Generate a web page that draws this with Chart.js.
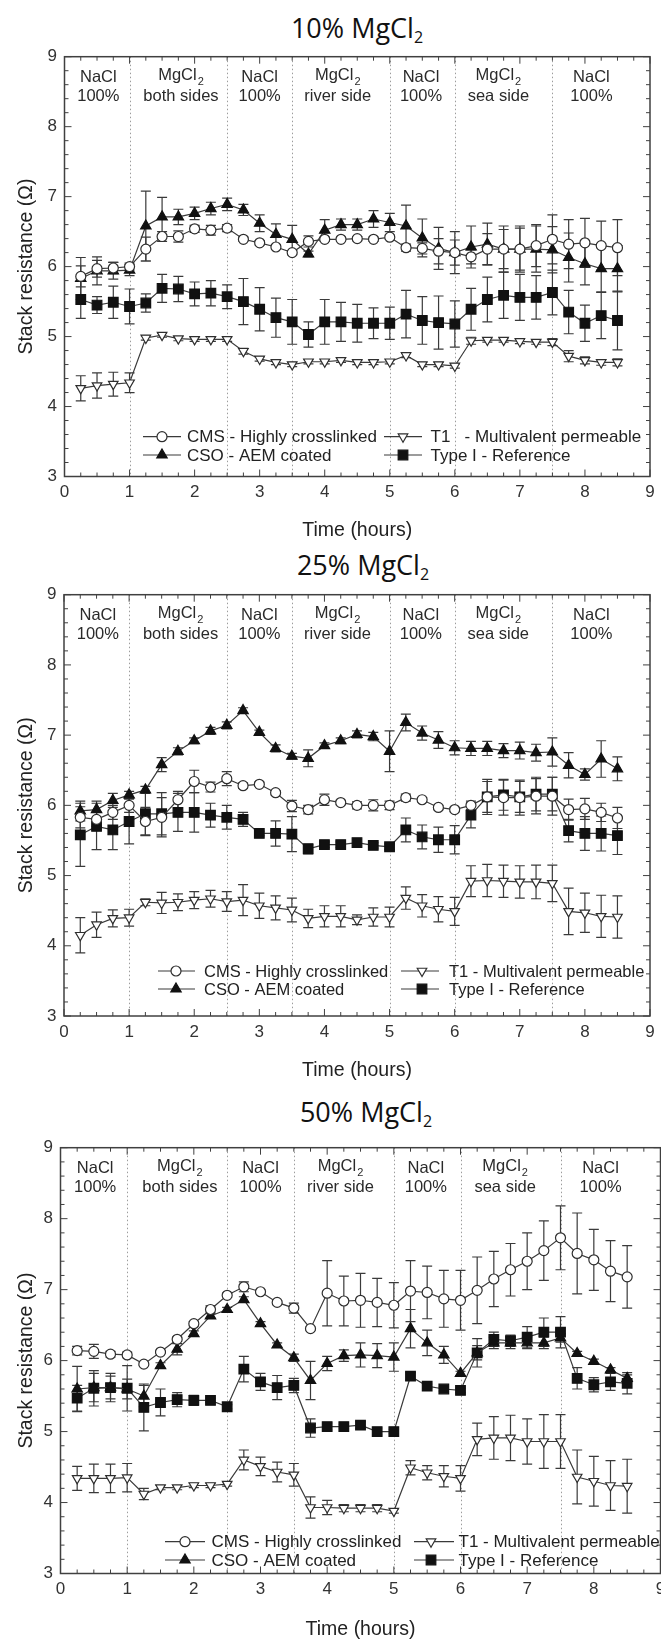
<!DOCTYPE html>
<html>
<head>
<meta charset="utf-8">
<script src="https://cdn.jsdelivr.net/npm/chart.js@4.4.1/dist/chart.umd.min.js"></script>
<style>
  body { margin: 0; width: 661px; height: 1639px; overflow: hidden; background: #fff; position: relative; }
  canvas { position: absolute; left: 0; }
  .ttl { position: absolute; font-family: "Open Sans", sans-serif; font-size: 27px; color: #111;
         transform: translate(-50%, -50%); white-space: nowrap; line-height: 1; }
  .ttl sub { font-size: 16px; vertical-align: -5px; line-height: 0; }
</style>
</head>
<body>
<script>
// x positions of the measurements (hours)
const times = [0.25,0.5,0.75,1,1.25,1.5,1.75,2,2.25,2.5,2.75,3,3.25,3.5,3.75,4,4.25,4.5,4.75,5,
               5.25,5.5,5.75,6,6.25,6.5,6.75,7,7.25,7.5,7.75,8,8.25,8.5];

// phase changes and phase labels
const phaseBounds = [1, 2.5, 3.5, 5, 6, 7.5];
const phaseX = [0.52, 1.79, 3.0, 4.2, 5.48, 6.67, 8.1];
const phaseTop = ['NaCl','MgCl','NaCl','MgCl','NaCl','MgCl','NaCl'];
const phaseBottom = ['100%','both sides','100%','river side','100%','sea side','100%'];

const xTicks = [0,1,2,3,4,5,6,7,8,9];
const yTicks = [3,4,5,6,7,8,9];

const panelTitles = ['10%', '25%', '50%'];
const seriesNames = [
  ['CMS - Highly crosslinked','CSO - AEM coated','T1   - Multivalent permeable','Type I - Reference'],
  ['CMS - Highly crosslinked','CSO - AEM coated','T1 - Multivalent permeable','Type I - Reference'],
  ['CMS - Highly crosslinked','CSO - AEM coated','T1 - Multivalent permeable','Type I - Reference']
];

// 10% MgCl2
const cms10 = [5.86,5.97,5.98,6.00,6.25,6.43,6.43,6.54,6.52,6.55,6.39,6.34,6.28,6.20,6.36,6.39,6.39,6.40,6.39,6.42,6.27,6.26,6.22,6.20,6.14,6.25,6.25,6.25,6.30,6.39,6.32,6.34,6.30,6.27];
const cms10Err = [0.15,0.12,0.08,0.05,0.17,0.07,0.08,0.05,0.07,0.05,0.03,0.03,0.03,0.03,0.08,0.03,0.03,0.03,0.03,0.03,0.05,0.08,0.18,0.18,0.1,0.22,0.28,0.3,0.3,0.35,0.35,0.35,0.35,0.4];
const cso10 = [5.83,5.94,5.94,5.95,6.58,6.71,6.71,6.76,6.83,6.89,6.81,6.62,6.46,6.39,6.18,6.52,6.60,6.60,6.68,6.63,6.58,6.41,6.26,6.20,6.28,6.32,6.25,6.25,6.25,6.24,6.13,6.04,5.97,5.97];
const cso10Err = [0.3,0.2,0.12,0.08,0.5,0.28,0.11,0.09,0.09,0.09,0.08,0.12,0.15,0.2,0.04,0.15,0.08,0.08,0.12,0.13,0.3,0.27,0.3,0.3,0.3,0.3,0.33,0.33,0.33,0.33,0.35,0.3,0.33,0.33];
const t110 = [4.26,4.30,4.32,4.34,4.98,5.02,4.97,4.96,4.96,4.96,4.79,4.68,4.63,4.60,4.64,4.64,4.66,4.63,4.63,4.64,4.73,4.60,4.60,4.58,4.94,4.95,4.95,4.93,4.92,4.92,4.72,4.66,4.63,4.63];
const t110Err = [0.18,0.18,0.17,0.14,0.03,0.03,0.03,0.03,0.03,0.03,0.04,0.03,0.03,0.03,0.03,0.03,0.03,0.03,0.03,0.03,0.03,0.03,0.03,0.03,0.05,0.03,0.03,0.03,0.03,0.05,0.08,0.05,0.04,0.05];
const type10 = [5.53,5.45,5.49,5.43,5.48,5.69,5.68,5.61,5.62,5.57,5.50,5.39,5.27,5.21,5.03,5.21,5.21,5.19,5.19,5.19,5.32,5.23,5.20,5.18,5.39,5.53,5.59,5.56,5.56,5.63,5.35,5.19,5.30,5.23];
const type10Err = [0.27,0.12,0.23,0.25,0.13,0.2,0.18,0.17,0.18,0.17,0.33,0.31,0.28,0.32,0.18,0.32,0.28,0.27,0.22,0.23,0.34,0.34,0.38,0.33,0.3,0.32,0.33,0.33,0.31,0.32,0.31,0.26,0.33,0.42];

// 25% MgCl2
const cms25 = [5.83,5.80,5.90,6.00,5.77,5.83,6.08,6.34,6.26,6.38,6.28,6.30,6.18,5.99,5.94,6.08,6.04,6.00,6.00,6.00,6.11,6.08,5.97,5.94,6.00,6.12,6.11,6.11,6.13,6.13,5.94,5.95,5.90,5.82];
const cms25Err = [0.15,0.1,0.1,0.1,0.2,0.28,0.12,0.16,0.07,0.1,0.04,0.03,0.03,0.08,0.06,0.08,0.03,0.05,0.08,0.06,0.05,0.03,0.03,0.03,0.06,0.25,0.25,0.25,0.25,0.27,0.15,0.15,0.13,0.15];
const cso25 = [5.92,5.94,6.07,6.15,6.22,6.58,6.77,6.92,7.06,7.14,7.35,7.04,6.81,6.70,6.67,6.85,6.92,7.01,6.98,6.77,7.18,7.03,6.93,6.82,6.81,6.81,6.78,6.78,6.75,6.76,6.57,6.44,6.66,6.52];
const cso25Err = [0.14,0.12,0.1,0.05,0.05,0.1,0.05,0.04,0.05,0.05,0.04,0.03,0.05,0.04,0.12,0.04,0.04,0.05,0.06,0.29,0.12,0.1,0.12,0.1,0.1,0.1,0.1,0.12,0.12,0.2,0.18,0.08,0.26,0.17];
const t125 = [4.15,4.30,4.39,4.40,4.62,4.61,4.62,4.65,4.67,4.63,4.65,4.57,4.54,4.51,4.39,4.42,4.42,4.37,4.41,4.41,4.68,4.57,4.52,4.49,4.92,4.93,4.92,4.91,4.91,4.89,4.49,4.47,4.42,4.41];
const t125Err = [0.25,0.18,0.12,0.12,0.05,0.15,0.12,0.12,0.12,0.14,0.22,0.18,0.17,0.17,0.13,0.15,0.15,0.07,0.13,0.14,0.16,0.16,0.18,0.2,0.22,0.23,0.23,0.23,0.24,0.26,0.33,0.28,0.3,0.3];
const type25 = [5.58,5.70,5.65,5.77,5.88,5.88,5.90,5.90,5.86,5.83,5.80,5.60,5.60,5.59,5.38,5.44,5.44,5.47,5.43,5.41,5.65,5.55,5.51,5.51,5.86,6.12,6.15,6.12,6.16,6.16,5.64,5.60,5.60,5.57];
const type25Err = [0.45,0.33,0.28,0.32,0.3,0.3,0.27,0.28,0.17,0.17,0.1,0.03,0.18,0.25,0.07,0.04,0.04,0.04,0.04,0.04,0.17,0.17,0.18,0.2,0.18,0.22,0.22,0.22,0.24,0.24,0.16,0.24,0.25,0.27];

// 50% MgCl2
const cms50 = [6.14,6.13,6.09,6.08,5.95,6.12,6.30,6.52,6.72,6.92,7.04,6.97,6.82,6.74,6.45,6.95,6.84,6.85,6.82,6.78,6.98,6.96,6.87,6.85,6.99,7.15,7.28,7.40,7.55,7.73,7.51,7.42,7.26,7.18];
const cms50Err = [0.06,0.1,0.04,0.04,0.02,0.02,0.03,0.03,0.05,0.03,0.07,0.02,0.02,0.07,0.02,0.46,0.35,0.38,0.34,0.32,0.43,0.37,0.4,0.42,0.47,0.39,0.37,0.4,0.42,0.45,0.57,0.43,0.43,0.44];
const cso50 = [5.60,5.62,5.62,5.60,5.50,5.93,6.16,6.38,6.63,6.72,6.86,6.52,6.22,6.04,5.72,5.96,6.07,6.08,6.07,6.05,6.45,6.25,6.08,5.82,6.11,6.25,6.25,6.25,6.25,6.32,6.10,5.99,5.87,5.75];
const cso50Err = [0.32,0.2,0.16,0.14,0.15,0.04,0.08,0.04,0.03,0.03,0.04,0.03,0.03,0.05,0.27,0.1,0.08,0.17,0.17,0.2,0.27,0.18,0.12,0.03,0.1,0.08,0.08,0.08,0.08,0.06,0.03,0.03,0.03,0.05];
const t150 = [4.34,4.34,4.34,4.35,4.12,4.21,4.21,4.24,4.24,4.26,4.60,4.51,4.43,4.39,3.93,3.93,3.92,3.92,3.92,3.88,4.49,4.42,4.37,4.34,4.89,4.91,4.91,4.86,4.86,4.86,4.36,4.30,4.24,4.23];
const t150Err = [0.17,0.2,0.2,0.2,0.08,0.03,0.03,0.03,0.03,0.03,0.14,0.13,0.14,0.16,0.15,0.1,0.05,0.05,0.05,0.03,0.1,0.1,0.15,0.18,0.23,0.3,0.32,0.32,0.38,0.38,0.38,0.35,0.35,0.38];
const type50 = [5.47,5.61,5.62,5.61,5.34,5.41,5.45,5.44,5.44,5.35,5.88,5.70,5.62,5.65,5.05,5.07,5.07,5.09,5.00,5.00,5.78,5.64,5.60,5.58,6.11,6.30,6.28,6.33,6.40,6.40,5.75,5.66,5.70,5.68];
const type50Err = [0.18,0.25,0.2,0.32,0.33,0.19,0.1,0.07,0.03,0.03,0.18,0.12,0.17,0.1,0.13,0.05,0.03,0.05,0.05,0.03,0.05,0.03,0.03,0.03,0.2,0.1,0.08,0.15,0.2,0.22,0.15,0.1,0.12,0.15];

const panelValues = [
  [[cms10, cms10Err], [cso10, cso10Err], [t110, t110Err], [type10, type10Err]],
  [[cms25, cms25Err], [cso25, cso25Err], [t125, t125Err], [type25, type25Err]],
  [[cms50, cms50Err], [cso50, cso50Err], [t150, t150Err], [type50, type50Err]]
];

// page geometry of the three plots
const panels = [
  { top: 51.7, bottom: 476.5, left: 64.5, right: 650, titleX: 357, titleY: 27, timeY: 531, legFont: 17,
    legRows: [39.8, 21.5], legCols: [[78.5, 116.5, 97.5, 122.5], [319.5, 357.5, 338.5, 366]] },
  { top: 589.7, bottom: 1016, left: 64, right: 650, titleX: 363, titleY: 564, timeY: 1071, legFont: 16.5,
    legRows: [45, 27], legCols: [[94, 131, 112, 140], [337, 375, 358, 385]] },
  { top: 1142.5, bottom: 1573.5, left: 60.5, right: 660.5, titleX: 366, titleY: 1111, timeY: 1630, legFont: 17,
    legRows: [31.8, 13.5], legCols: [[104.5, 144.5, 124.5, 151], [353.5, 393.5, 370.5, 398]] }
];

const FONT = '"Liberation Sans", Arial, sans-serif';
const CANVAS_W = 700;

const styles = [
  { pointStyle: 'circle', radius: 5, rotation: 0, fill: '#ffffff', stroke: '#2e2e2e' },
  { pointStyle: 'triangle', radius: 6, rotation: 0, fill: '#111111', stroke: '#111111' },
  { pointStyle: 'triangle', radius: 5.5, rotation: 180, fill: '#ffffff', stroke: '#2e2e2e' },
  { pointStyle: 'rect', radius: 6.8, rotation: 0, fill: '#111111', stroke: '#111111' }
];

const decor = {
  id: 'decor',
  beforeDatasetsDraw(chart) {
    const { ctx, chartArea: a, scales: { x, y } } = chart;
    ctx.save();
    ctx.strokeStyle = '#9c9c9c';
    ctx.lineWidth = 1;
    ctx.setLineDash([1.5, 2.5]);
    phaseBounds.forEach(b => {
      const px = Math.round(x.getPixelForValue(b)) + 0.5;
      ctx.beginPath(); ctx.moveTo(px, a.top); ctx.lineTo(px, a.bottom); ctx.stroke();
    });
    ctx.setLineDash([]);
    // error bars
    ctx.strokeStyle = '#3a3a3a';
    ctx.lineWidth = 1.2;
    chart.data.datasets.forEach(ds => {
      ds.data.forEach((p, j) => {
        const e = ds.errors[j];
        const px = x.getPixelForValue(p.x);
        const y1 = y.getPixelForValue(p.y + e), y2 = y.getPixelForValue(p.y - e);
        ctx.beginPath();
        ctx.moveTo(px, y1); ctx.lineTo(px, y2);
        ctx.moveTo(px - 5, y1); ctx.lineTo(px + 5, y1);
        ctx.moveTo(px - 5, y2); ctx.lineTo(px + 5, y2);
        ctx.stroke();
      });
    });
    ctx.restore();
  },
  afterDraw(chart) {
    const { ctx, chartArea: a, scales: { x, y } } = chart;
    const g = chart.options.plugins.decor;
    ctx.save();
    // frame + inward ticks on all sides
    ctx.strokeStyle = '#404040';
    ctx.lineWidth = 1.5;
    ctx.strokeRect(a.left, a.top, a.right - a.left, a.bottom - a.top);
    ctx.lineWidth = 1;
    ctx.beginPath();
    for (let v = 0; v <= 36; v++) {
      const px = x.getPixelForValue(v * 0.25);
      const len = v % 4 === 0 ? 7 : 4;
      ctx.moveTo(px, a.bottom); ctx.lineTo(px, a.bottom - len);
      ctx.moveTo(px, a.top); ctx.lineTo(px, a.top + len);
    }
    for (let v = 0; v <= 30; v++) {
      const py = y.getPixelForValue(3 + v * 0.2);
      const len = v % 5 === 0 ? 7 : 4;
      ctx.moveTo(a.left, py); ctx.lineTo(a.left + len, py);
      ctx.moveTo(a.right, py); ctx.lineTo(a.right - len, py);
    }
    ctx.stroke();

    // phase labels
    ctx.fillStyle = '#2a2a2a';
    ctx.textBaseline = 'middle';
    const big = '16.5px ' + FONT, small = '11px ' + FONT;
    phaseX.forEach((t, i) => {
      const cx = x.getPixelForValue(t);
      ctx.font = big;
      if (phaseTop[i] === 'MgCl') {
        const w1 = ctx.measureText('MgCl').width;
        ctx.font = small;
        const w2 = ctx.measureText('2').width;
        const x0 = cx - (w1 + w2 + 1) / 2;
        ctx.textAlign = 'left';
        ctx.font = big;
        ctx.fillText('MgCl', x0, a.top + 19);
        ctx.font = small;
        ctx.fillText('2', x0 + w1 + 1, a.top + 25);
      } else {
        ctx.textAlign = 'center';
        ctx.fillText(phaseTop[i], cx, a.top + 21);
      }
      ctx.font = big;
      ctx.textAlign = 'center';
      ctx.fillText(phaseBottom[i], cx, a.top + 39.5);
    });

    // legend inside the plot
    chart.data.datasets.forEach((ds, i) => {
      const col = g.legCols[Math.floor(i / 2)];
      const ly = a.bottom - g.legRows[i % 2];
      ctx.strokeStyle = '#3a3a3a';
      ctx.lineWidth = 1.2;
      ctx.beginPath();
      ctx.moveTo(a.left + col[0], ly); ctx.lineTo(a.left + col[1], ly);
      ctx.stroke();
      const st = styles[i];
      ctx.fillStyle = st.fill;
      ctx.strokeStyle = st.stroke;
      Chart.helpers.drawPoint(ctx, { pointStyle: st.pointStyle, radius: st.radius, rotation: st.rotation, borderWidth: 1.2 },
        a.left + col[2], ly);
      ctx.fillStyle = '#222';
      ctx.font = g.legFont + 'px ' + FONT;
      ctx.textAlign = 'left';
      ctx.textBaseline = 'middle';
      ctx.fillText(ds.label, a.left + col[3], ly + 1);
    });
    ctx.restore();
  }
};

panels.forEach((g, p) => {
  const ttl = document.createElement('div');
  ttl.className = 'ttl';
  ttl.innerHTML = panelTitles[p] + ' MgCl<sub>2</sub>';
  ttl.style.left = g.titleX + 'px';
  ttl.style.top = g.titleY + 'px';
  document.body.appendChild(ttl);

  const ctop = Math.floor(g.top) - 12;
  const cbottom = Math.ceil(g.timeY + 13);
  const cv = document.createElement('canvas');
  cv.width = CANVAS_W;
  cv.height = cbottom - ctop;
  cv.style.top = ctop + 'px';
  cv.style.width = CANVAS_W + 'px';
  cv.style.height = (cbottom - ctop) + 'px';
  document.body.appendChild(cv);

  const datasets = panelValues[p].map(([vals, errs], i) => ({
    label: seriesNames[p][i],
    data: times.map((t, k) => ({ x: t, y: vals[k] })),
    errors: errs,
    borderColor: '#3a3a3a',
    borderWidth: 1.2,
    pointStyle: styles[i].pointStyle,
    pointRadius: styles[i].radius,
    pointRotation: styles[i].rotation,
    pointBackgroundColor: styles[i].fill,
    pointBorderColor: styles[i].stroke,
    pointBorderWidth: 1.2,
    tension: 0
  }));

  const xTitleSize = 19.5, yTitleSize = 19.5;
  new Chart(cv.getContext('2d'), {
    type: 'line',
    data: { datasets },
    options: {
      responsive: false,
      animation: false,
      devicePixelRatio: 1,
      layout: { padding: { top: g.top - ctop, right: CANVAS_W - g.right, left: 0, bottom: 0 } },
      plugins: {
        legend: { display: false },
        tooltip: { enabled: false },
        decor: g
      },
      scales: {
        x: {
          type: 'linear', min: 0, max: 9,
          grid: { display: false, drawTicks: false },
          border: { display: false },
          afterBuildTicks: s => { s.ticks = xTicks.map(v => ({ value: v })); },
          ticks: { padding: 6, color: '#333', font: { family: FONT, size: 17 } },
          title: { display: true, text: 'Time (hours)', color: '#222', font: { family: FONT, size: xTitleSize },
                   padding: { top: 0, bottom: (cbottom - g.timeY) - xTitleSize * 0.6 } },
          afterFit: s => { s.height = cbottom - g.bottom; }
        },
        y: {
          type: 'linear', min: 3, max: 9,
          grid: { display: false, drawTicks: false },
          border: { display: false },
          afterBuildTicks: s => { s.ticks = yTicks.map(v => ({ value: v })); },
          ticks: { padding: 7.5, color: '#333', font: { family: FONT, size: 17 } },
          title: { display: true, text: 'Stack resistance (Ω)', color: '#222', font: { family: FONT, size: yTitleSize },
                   padding: { top: 27 - yTitleSize * 0.6, bottom: 0 } },
          afterFit: s => { s.width = g.left; }
        }
      }
    },
    plugins: [decor]
  });
});
</script>
</body>
</html>
